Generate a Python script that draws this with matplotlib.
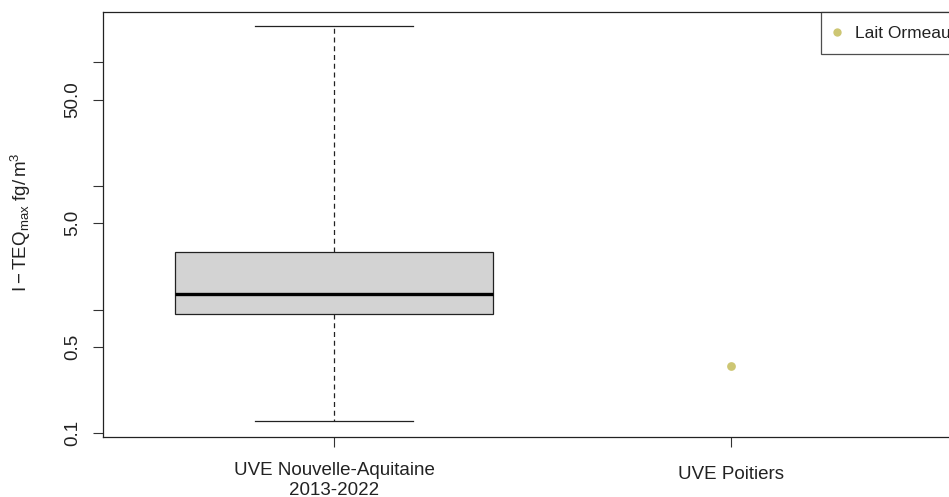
import matplotlib
matplotlib.use("Agg")
import matplotlib.pyplot as plt
from matplotlib.lines import Line2D
from matplotlib.transforms import ScaledTranslation

plt.rcParams['font.family'] = ['Liberation Sans', 'DejaVu Sans']
plt.rcParams['mathtext.fontset'] = 'custom'
plt.rcParams['mathtext.rm'] = 'Liberation Sans'
plt.rcParams['mathtext.it'] = 'Liberation Sans'

# Data
categories = ["UVE Nouvelle-Aquitaine\n2013-2022", "UVE Poitiers"]
box_whislo = 0.126
box_q1 = 0.923
box_med = 1.34
box_q3 = 2.95
box_whishi = 196.0
point_label = "Lait Ormeau"
point_value = 0.351
yticks = [0.1, 0.5, 1, 5, 10, 50, 100]
yticklabels = ["0.1", "0.5", "", "5.0", "", "50.0", ""]

W, H = 949, 497
fig = plt.figure(figsize=(W / 100, H / 100), dpi=100)
left, right, top, bottom = 103, 960, 12, 437
ax = fig.add_axes([left / W, (H - bottom) / H, (right - left) / W, (bottom - top) / H])

stats = [dict(whislo=box_whislo, q1=box_q1, med=box_med, q3=box_q3,
              whishi=box_whishi, fliers=[], label=categories[0])]
ax.bxp(stats, positions=[1], widths=0.8, patch_artist=True, showfliers=False,
       boxprops=dict(facecolor='#D3D3D3', edgecolor='#222222', linewidth=0.9),
       medianprops=dict(color='black', linewidth=2.4),
       whiskerprops=dict(color='#222222', linewidth=0.9, linestyle=(0, (4, 3))),
       capprops=dict(color='#222222', linewidth=0.9), capwidths=0.4)

col = '#CDC673'
ax.plot([2], [point_value], 'o', color=col, markersize=6.3, markeredgewidth=0, label=point_label)

ax.set_yscale('log')
ax.set_ylim(10 ** -1.030, 10 ** 2.4068)
ax.set_xlim(1 - (334 - left) / 397, 1 + (right - 334) / 397)
ax.set_yticks(yticks)
ax.set_yticklabels(yticklabels)
ax.minorticks_off()
ax.set_xticks([1, 2])
ax.set_xticklabels(categories, linespacing=1.2)

ax.tick_params(axis='both', length=7, width=0.8, color='#333333', labelsize=13.5, labelcolor='#222222')
ax.tick_params(axis='x', pad=11)
ax.tick_params(axis='y', pad=9)
for lab in ax.get_yticklabels():
    lab.set_rotation(90)
    lab.set_va('center')
xl = ax.get_xticklabels()
xl[1].set_transform(xl[1].get_transform() + ScaledTranslation(0, -4 / 100, fig.dpi_scale_trans))

for s in ax.spines.values():
    s.set_color('#222222')
    s.set_linewidth(0.9)

fig.text(21 / W, 1 - 222 / H, r'$\mathrm{I-TEQ_{max}\ fg/\,m^3}$', fontsize=13.5,
         color='#222222', rotation=90, ha='center', va='center')

handle = Line2D([], [], marker='o', linestyle='none', color=col, markersize=6, markeredgewidth=0)
leg = fig.legend([handle], [point_label], loc='upper left',
                 bbox_to_anchor=(821 / W, (H - top) / H), frameon=True, fancybox=False,
                 fontsize=12.5, borderpad=0.78, handletextpad=0.9, handlelength=0.3,
                 borderaxespad=0, labelcolor='#222222')
leg.get_frame().set_edgecolor('#222222')
leg.get_frame().set_linewidth(0.9)

fig.savefig('out.png', dpi=100)
